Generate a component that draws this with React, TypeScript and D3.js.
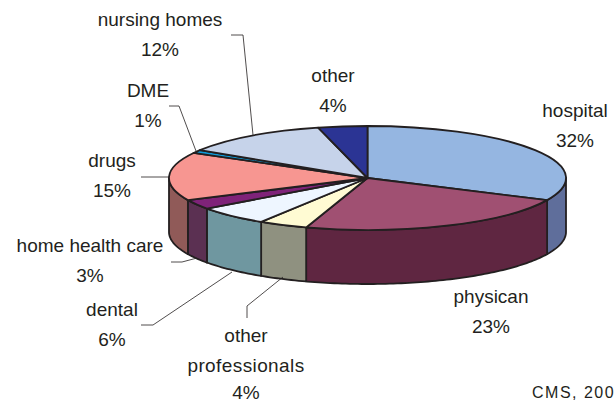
import * as d3 from 'd3';

const categories = ['hospital', 'physican', 'other professionals', 'dental', 'home health care', 'drugs', 'DME', 'nursing homes', 'other'];
const shares = [32, 23, 4, 6, 3, 15, 1, 12, 4];
const topColors = ['#95b6e1', '#a05072', '#fffbd3', '#eef6ff', '#7f2379', '#f79691', '#0e9ad7', '#c6d3ea', '#2b3494'];
const sideColors = ['#5f6e9b', '#5f2641', '#8f9180', '#6f97a0', '#5b3052', '#905a58', '#0a6a94', '#87909f', '#1c2266'];

// label lines, centre x, baselines
const labelLayout = [
  { lines: ['hospital', '32%'], x: 575, ys: [117, 147] },
  { lines: ['physican', '23%'], x: 491, ys: [303, 333] },
  { lines: ['other', 'professionals', '4%'], x: 246, ys: [342, 372, 399] },
  { lines: ['dental', '6%'], x: 112, ys: [316, 346] },
  { lines: ['home health care', '3%'], x: 90, ys: [252, 282] },
  { lines: ['drugs', '15%'], x: 112, ys: [167, 197] },
  { lines: ['DME', '1%'], x: 148, ys: [97, 127] },
  { lines: ['nursing homes', '12%'], x: 160, ys: [26, 56] },
  { lines: ['other', '4%'], x: 333, ys: [82, 112] },
];

const leaders: [number, number][][] = [
  [[231, 35], [243, 35], [253, 135]],
  [[169, 106], [179, 106], [196, 151]],
  [[141, 177], [169, 177]],
  [[171, 262], [182, 262], [197, 258]],
  [[141, 325], [153, 325], [232, 272]],
  [[247, 318], [247, 306], [283, 277]],
];

const cx = 367.5;
const cy = 178;
const rx = 198.5;
const ry = 52;
const depth = 54;
const edge = '#231f20';

const pieData = d3.pie<number>().sort(null).value((d) => d)(shares);
const arcPath = d3.arc<d3.PieArcDatum<number>>().innerRadius(0).outerRadius(rx);
const line = d3.line();

const rim = (a: number, dy = 0): [number, number] => [cx + rx * Math.sin(a), cy - ry * Math.cos(a) + dy];

// outer wall of a slice, only the part that faces the viewer
const sidePath = (start: number, end: number) => {
  const a0 = Math.max(start, Math.PI / 2);
  const a1 = Math.min(end, (3 * Math.PI) / 2);
  if (a1 <= a0) return null;
  const angles = d3.range(a0, a1, 0.02).concat(a1);
  const pts = angles.map((a) => rim(a)).concat(angles.slice().reverse().map((a) => rim(a, depth)));
  return line(pts) + 'Z';
};

export default function App() {
  return (
    <svg
      width={615}
      height={400}
      style={{ position: 'absolute', left: 0, top: 0, background: '#fff' }}
      fontFamily="'Liberation Sans', Arial, sans-serif"
    >
      <g stroke={edge} strokeWidth={1.8} strokeLinejoin="round">
        {pieData.map((d, i) => {
          const p = sidePath(d.startAngle, d.endAngle);
          return p ? <path key={categories[i]} d={p} fill={sideColors[i]} /> : null;
        })}
      </g>
      <g transform={`translate(${cx},${cy}) scale(1,${ry / rx})`} stroke={edge} strokeWidth={1.8} strokeLinejoin="round">
        {pieData.map((d, i) => (
          <path key={categories[i]} d={arcPath(d) ?? ''} fill={topColors[i]} vectorEffect="non-scaling-stroke" />
        ))}
      </g>
      <g fill="none" stroke={edge} strokeWidth={0.8}>
        {leaders.map((l, i) => (
          <path key={i} d={line(l) ?? ''} />
        ))}
      </g>
      <g fontSize={19} fill="#231f20" textAnchor="middle">
        {labelLayout.map((l) =>
          l.lines.map((t, j) => (
            <text key={`${l.x}-${j}`} x={l.x} y={l.ys[j]} letterSpacing={t === 'professionals' ? 0.4 : 0}>
              {t}
            </text>
          )),
        )}
      </g>
      <text x={532} y={398} fontSize={16} letterSpacing={1.5} fill="#231f20">
        CMS, 200
      </text>
    </svg>
  );
}
